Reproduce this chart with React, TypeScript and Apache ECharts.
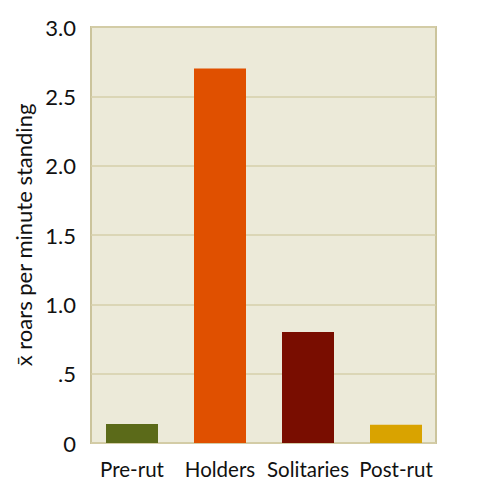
import { useEffect, useRef } from 'react'
import * as echarts from 'echarts'

const categories = ['Pre-rut', 'Holders', 'Solitaries', 'Post-rut']
const roarRates = [0.137, 2.7, 0.8, 0.132]
const barColors = ['#5b6a19', '#e05000', '#790d00', '#d9a300']
const yTicks = [0, 0.5, 1, 1.5, 2, 2.5, 3]

const FONT = 'Lato, "Noto Sans", sans-serif'

function tickLabel(v: number) {
  if (v === 0) return '0'
  if (v < 1) return String(v).replace(/^0/, '')
  return v.toFixed(1)
}

export default function App() {
  const chartRef = useRef<HTMLDivElement>(null)

  useEffect(() => {
    if (!chartRef.current) return
    document.body.style.margin = '0'
    const chart = echarts.init(chartRef.current, null, { renderer: 'svg' })

    const yMin = yTicks[0]
    const yMax = yTicks[yTicks.length - 1]

    chart.setOption({
      animation: false,
      grid: [
        // panel: background, border, gridlines, y labels
        {
          left: 91,
          right: 52,
          top: 27,
          bottom: 53,
          show: true,
          backgroundColor: '#ecead9',
          borderColor: '#cbc49c',
          borderWidth: 2,
        },
        // bars sit on a slightly wider band than the panel
        { left: 88, right: 48, top: 27, bottom: 53 },
      ],
      xAxis: [
        { type: 'category', gridIndex: 0, data: categories, show: false },
        {
          type: 'category',
          gridIndex: 1,
          data: categories,
          axisLine: { show: false },
          axisTick: { show: false },
          axisLabel: {
            interval: 0,
            margin: 15,
            color: '#111',
            fontSize: 20.5,
            fontFamily: FONT,
          },
        },
      ],
      yAxis: [
        {
          type: 'value',
          gridIndex: 0,
          min: yMin,
          max: yMax,
          interval: 0.5,
          name: 'x̄ roars per minute standing',
          nameLocation: 'middle',
          nameGap: 53,
          nameTextStyle: { color: '#111', fontSize: 22, fontFamily: FONT },
          axisLine: { show: false },
          axisTick: { show: false },
          splitLine: { lineStyle: { color: '#d6cfaa', width: 1.5 } },
          axisLabel: {
            margin: 15,
            color: '#111',
            fontSize: 22,
            fontFamily: FONT,
            formatter: (v: number) => tickLabel(v),
          },
        },
        {
          type: 'value',
          gridIndex: 1,
          min: yMin,
          max: yMax,
          interval: 0.5,
          show: false,
          splitLine: { show: false },
        },
      ],
      series: [
        {
          type: 'bar',
          xAxisIndex: 1,
          yAxisIndex: 1,
          barWidth: 52,
          data: roarRates.map((v, i) => ({
            value: v,
            itemStyle: { color: barColors[i] },
          })),
        },
      ],
    })

    return () => {
      chart.dispose()
    }
  }, [])

  return <div ref={chartRef} style={{ width: 488, height: 496 }} />
}
